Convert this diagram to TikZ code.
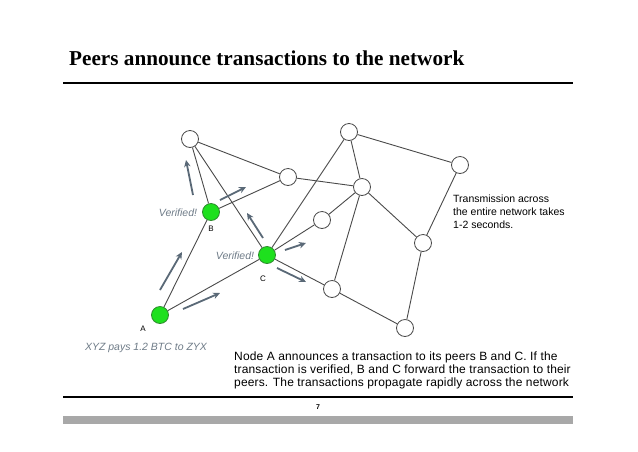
\documentclass[tikz,border=0pt]{standalone}
\usepackage{fontspec}
\setmainfont{Liberation Sans}
\newfontfamily\titlefont{Liberation Serif}
\newfontfamily\bodyfont[LetterSpace=1.3]{Liberation Sans}
\usetikzlibrary{arrows.meta}
\definecolor{edgegray}{HTML}{4A4A4A}
\definecolor{arrowgray}{HTML}{5A6977}
\definecolor{brightgreen}{HTML}{1EE01E}
\definecolor{greenline}{HTML}{2E8B2E}
\definecolor{vertext}{HTML}{6F7C88}
\definecolor{bargray}{HTML}{A8A8A8}
\begin{document}
\begin{tikzpicture}[x=1pt,y=-1pt,
  peer/.style={circle,draw=edgegray,fill=white,line width=0.8pt,minimum size=17pt,inner sep=0pt},
  gpeer/.style={peer,draw=greenline,fill=brightgreen},
  link/.style={draw=edgegray,line width=0.9pt},
  flow/.style={draw=arrowgray,line width=1.8pt,-{Stealth[length=7pt,width=6.5pt]}},
  vlabel/.style={text=vertext,font=\fontsize{10.5}{12}\selectfont\itshape},
  plabel/.style={font=\fontsize{8}{9}\selectfont},
  note/.style={font=\bodyfont\fontsize{12}{13}\selectfont,align=left,inner sep=0pt,anchor=north west},
  rule/.style={draw=black,line width=1.2pt}
]
\useasboundingbox (0,0) rectangle (638,451);
\fill[white] (0,0) rectangle (638,451);

% title
\node[anchor=base west,inner sep=0pt,font=\titlefont\bfseries\fontsize{21.2}{24}\selectfont] (title) at (69,65) {Peers announce transactions to the network};
\draw[rule] (63,83) -- (573,83);

% peers
\node[gpeer] (A) at (160,315) {};
\node[gpeer] (B) at (211,212) {};
\node[gpeer] (C) at (267,255) {};
\node[peer] (n1) at (190,139) {};
\node[peer] (n2) at (288,177) {};
\node[peer] (n3) at (322,220) {};
\node[peer] (n4) at (332,289) {};
\node[peer] (n5) at (349,132) {};
\node[peer] (n6) at (362,187) {};
\node[peer] (n7) at (460,165) {};
\node[peer] (n8) at (423,243) {};
\node[peer] (n9) at (405,328) {};

% links
\draw[link] (A) -- (B);
\draw[link] (A) -- (C);
\draw[link] (B) -- (n1);
\draw[link] (B) -- (n2);
\draw[link] (n1) -- (n2);
\draw[link] (n1) -- (C);
\draw[link] (C) -- (n5);
\draw[link] (C) -- (n3);
\draw[link] (C) -- (n4);
\draw[link] (n2) -- (n6);
\draw[link] (n3) -- (n6);
\draw[link] (n5) -- (n6);
\draw[link] (n5) -- (n7);
\draw[link] (n6) -- (n8);
\draw[link] (n6) -- (n4);
\draw[link] (n7) -- (n8);
\draw[link] (n8) -- (n9);
\draw[link] (n4) -- (n9);

% propagation arrows
\coordinate (a1s) at (160,290); \coordinate (a1e) at (182,252);
\coordinate (a2s) at (183,309); \coordinate (a2e) at (220,293);
\coordinate (a3s) at (193,195); \coordinate (a3e) at (186,160);
\coordinate (a4s) at (220,200); \coordinate (a4e) at (246,187);
\coordinate (a5s) at (263,238); \coordinate (a5e) at (247,213);
\coordinate (a6s) at (285,250); \coordinate (a6e) at (306,243);
\coordinate (a7s) at (277,268); \coordinate (a7e) at (306,282);
\draw[flow] (a1s) -- (a1e);
\draw[flow] (a2s) -- (a2e);
\draw[flow] (a3s) -- (a3e);
\draw[flow] (a4s) -- (a4e);
\draw[flow] (a5s) -- (a5e);
\draw[flow] (a6s) -- (a6e);
\draw[flow] (a7s) -- (a7e);

% labels
\node[vlabel] (vB) at (178,213) {Verified!};
\node[vlabel] (vC) at (235,256) {Verified!};
\node[plabel] (lB) at (211,229) {B};
\node[plabel] (lC) at (263,279) {C};
\node[plabel] (lA) at (143,329) {A};
\node[vlabel] (tx) at (146,348) {XYZ pays 1.2 BTC to ZYX};

\node[note,font=\fontsize{10.5}{13}\selectfont] (trans) at (453,195) {Transmission across\\the entire network takes\\1-2 seconds.};
\node[note] (body) at (234,352) {Node A announces a transaction to its peers B and C. If the\\transaction is verified, B and C forward the transaction to their\\peers. The transactions propagate rapidly across the network};

% footer
\draw[rule] (63,397) -- (573,397);
\node[font=\fontsize{7}{8}\selectfont\bfseries] (page) at (318,407) {7};
\fill[bargray] (63,416) rectangle (573,424);
\end{tikzpicture}
\end{document}
